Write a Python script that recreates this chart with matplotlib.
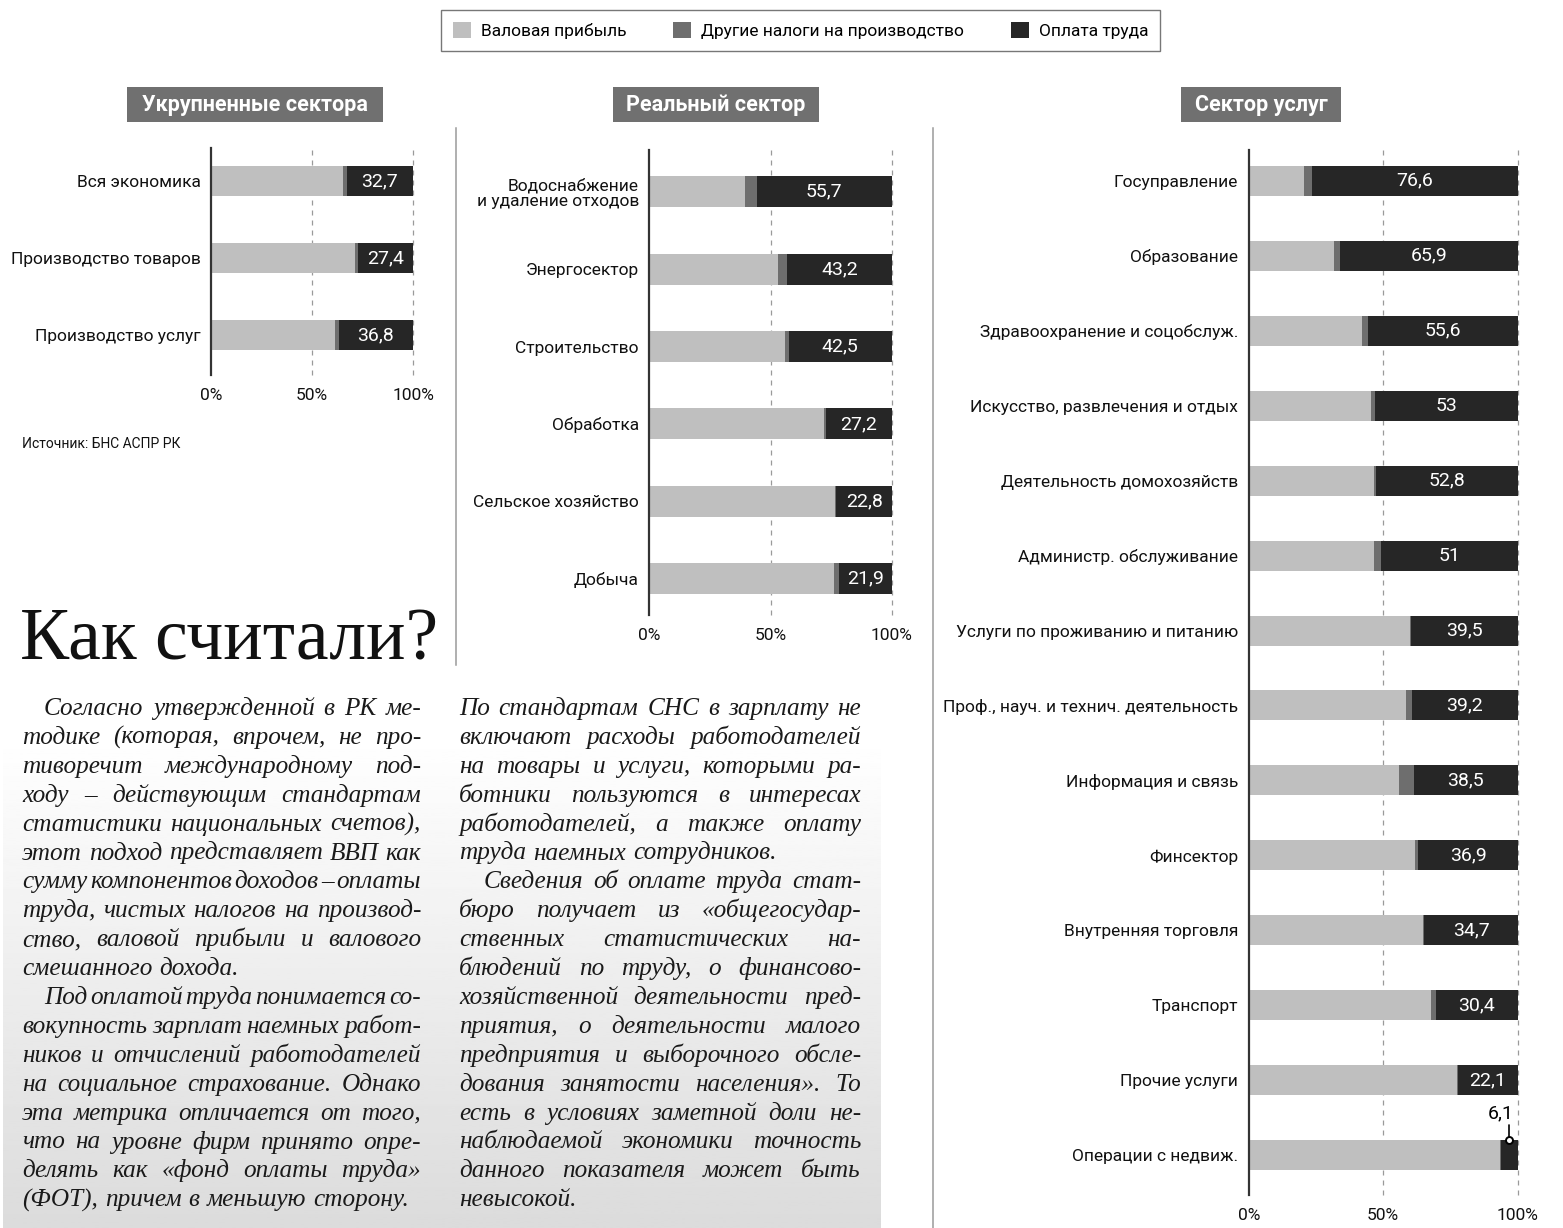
import matplotlib
matplotlib.use("Agg")
import matplotlib.pyplot as plt
import numpy as np
from matplotlib.lines import Line2D
from matplotlib.patches import Patch, Rectangle

W, H = 1563, 1228
LIGHT = "#bfbfbf"
MID = "#6e6e6e"
DARK = "#262626"
BOXGRAY = "#707070"

plt.rcParams["font.family"] = ["Roboto", "DejaVu Sans"]

# --- data -----------------------------------------------------------------
big_labels = ["Вся экономика", "Производство товаров", "Производство услуг"]
big_profit = [65.3, 71.3, 61.4]
big_taxes = [2.0, 1.3, 1.8]
big_labor = [32.7, 27.4, 36.8]

real_labels = ["Водоснабжение\nи удаление отходов", "Энергосектор", "Строительство",
               "Обработка", "Сельское хозяйство", "Добыча"]
real_profit = [39.5, 53.0, 56.1, 72.0, 76.8, 76.3]
real_taxes = [4.8, 3.8, 1.4, 0.8, 0.4, 1.8]
real_labor = [55.7, 43.2, 42.5, 27.2, 22.8, 21.9]

serv_labels = ["Госуправление", "Образование", "Здравоохранение и соцобслуж.",
               "Искусство, развлечения и отдых", "Деятельность домохозяйств",
               "Администр. обслуживание", "Услуги по проживанию и питанию",
               "Проф., науч. и технич. деятельность", "Информация и связь",
               "Финсектор", "Внутренняя торговля", "Транспорт", "Прочие услуги",
               "Операции с недвиж."]
serv_profit = [20.4, 31.8, 42.2, 45.3, 46.5, 46.7, 59.8, 58.6, 55.8, 61.7, 64.8, 67.8, 77.4, 93.3]
serv_taxes = [3.0, 2.3, 2.2, 1.7, 0.7, 2.3, 0.7, 2.2, 5.7, 1.4, 0.5, 1.8, 0.5, 0.6]
serv_labor = [76.6, 65.9, 55.6, 53, 52.8, 51, 39.5, 39.2, 38.5, 36.9, 34.7, 30.4, 22.1, 6.1]

series_names = ["Валовая прибыль", "Другие налоги на производство", "Оплата труда"]
panel_titles = ["Укрупненные сектора", "Реальный сектор", "Сектор услуг"]
x_ticks = [0, 50, 100]
x_ticklabels = ["0%", "50%", "100%"]

col1_paragraphs = [
    ["Согласно утвержденной в РК ме-",
     "тодике (которая, впрочем, не про-",
     "тиворечит международному под-",
     "ходу – действующим стандартам",
     "статистики национальных счетов),",
     "этот подход представляет ВВП как",
     "сумму компонентов доходов – оплаты",
     "труда, чистых налогов на производ-",
     "ство, валовой прибыли и валового",
     "смешанного дохода."],
    ["Под оплатой труда понимается со-",
     "вокупность зарплат наемных работ-",
     "ников и отчислений работодателей",
     "на социальное страхование. Однако",
     "эта метрика отличается от того,",
     "что на уровне фирм принято опре-",
     "делять как «фонд оплаты труда»",
     "(ФОТ), причем в меньшую сторону."],
]
col2_paragraphs = [
    ["По стандартам СНС в зарплату не",
     "включают расходы работодателей",
     "на товары и услуги, которыми ра-",
     "ботники пользуются в интересах",
     "работодателей, а также оплату",
     "труда наемных сотрудников."],
    ["Сведения об оплате труда стат-",
     "бюро получает из «общегосудар-",
     "ственных статистических на-",
     "блюдений по труду, о финансово-",
     "хозяйственной деятельности пред-",
     "приятия, о деятельности малого",
     "предприятия и выборочного обсле-",
     "дования занятости населения». То",
     "есть в условиях заметной доли не-",
     "наблюдаемой экономики точность",
     "данного показателя может быть",
     "невысокой."],
]


def fmt(v):
    return f"{v:g}".replace(".", ",")


def px_axes(fig, left, top, right, bottom):
    return fig.add_axes([left / W, 1 - bottom / H, (right - left) / W, (bottom - top) / H])


def draw_panel(ax, labels, profit, taxes, labor, bar_h, ylim):
    y = np.arange(len(labels))
    profit = np.asarray(profit, float)
    taxes = np.asarray(taxes, float)
    labor = np.asarray(labor, float)
    ax.barh(y, profit, height=bar_h, color=LIGHT, zorder=2)
    ax.barh(y, taxes, left=profit, height=bar_h, color=MID, zorder=2)
    ax.barh(y, labor, left=profit + taxes, height=bar_h, color=DARK, zorder=2)
    for yi, p, t, l in zip(y, profit, taxes, labor):
        if l > 10:
            ax.text(p + t + l / 2, yi, fmt(l), color="white", ha="center",
                    va="center", fontsize=14, zorder=3)
        else:
            ax.annotate(fmt(l), xy=(p + t + l / 2, yi - bar_h / 2),
                        xytext=(-6, 13), textcoords="offset points",
                        ha="center", va="bottom", fontsize=14, color="black",
                        arrowprops=dict(arrowstyle="-", color="black", lw=1.2,
                                        shrinkA=0, shrinkB=0,
                                        connectionstyle="angle,angleA=0,angleB=90,rad=0"),
                        zorder=4)
            ax.plot(p + t + l / 2, yi - bar_h / 2, "o", ms=5, mfc="white",
                    mec="black", mew=1.4, zorder=5, clip_on=False)
    for xv in (50, 100):
        ax.axvline(xv, color="#9a9a9a", lw=0.9, ls=(0, (4, 4)), zorder=1, clip_on=False)
    ax.set_xlim(0, 100)
    ax.set_ylim(*ylim)
    ax.set_xticks(x_ticks, x_ticklabels)
    ax.set_yticks(y, labels)
    for lab in ax.get_yticklabels():
        lab.set_linespacing(1.0)
    ax.tick_params(length=0, labelsize=12.5, pad=7.5, colors="#111111")
    ax.tick_params(axis="x", pad=9)
    for s in ("top", "right", "bottom"):
        ax.spines[s].set_visible(False)
    ax.spines["left"].set_color("#333333")
    ax.spines["left"].set_linewidth(1.6)
    ax.spines["left"].set_zorder(4)


fig = plt.figure(figsize=(W / 100, H / 100), dpi=100)

# gradient background behind the text block
bg = fig.add_axes([3 / W, 0, (880 - 3) / W, (1228 - 735) / H], zorder=-5)
grad = np.linspace(1.0, 0.86, 200)[:, None]
bg.imshow(grad, cmap="gray", vmin=0, vmax=1, aspect="auto", extent=(0, 1, 0, 1))
bg.axis("off")

ax1 = px_axes(fig, 211, 148, 413, 375)
draw_panel(ax1, big_labels, big_profit, big_taxes, big_labor, 0.39, (2.52, -0.43))

ax2 = px_axes(fig, 649.3, 150, 891.7, 615)
draw_panel(ax2, real_labels, real_profit, real_taxes, real_labor, 0.40, (5.47, -0.54))

ax3 = px_axes(fig, 1248.7, 150, 1517.7, 1195)
draw_panel(ax3, serv_labels, serv_profit, serv_taxes, serv_labor, 0.40, (13.53, -0.41))

# panel title boxes
for (x0, x1), title in zip([(127, 383), (613, 819), (1181, 1341)], panel_titles):
    fig.patches.append(Rectangle((x0 / W, 1 - 122 / H), (x1 - x0) / W, 35 / H,
                                 transform=fig.transFigure, fc=BOXGRAY, ec="none"))
    fig.text((x0 + x1) / 2 / W, 1 - 105 / H, title, ha="center", va="center",
             color="white", fontsize=15.5, fontweight="bold")

# separators
for x, y1 in [(456, 665), (933, 1228)]:
    fig.add_artist(Line2D([x / W, x / W], [1 - 128 / H, 1 - y1 / H],
                          transform=fig.transFigure, color="#9a9a9a", lw=1.1))

# legend
handles = [Patch(fc=c, ec="none", label=n) for c, n in zip([LIGHT, MID, DARK], series_names)]
leg = fig.legend(handles=handles, ncol=3, loc="center", bbox_to_anchor=(800.5 / W, 1 - 30.5 / H),
                 frameon=True, fancybox=False, edgecolor="#555555", fontsize=12.5,
                 handlelength=1.05, handleheight=1.05, handletextpad=0.55,
                 columnspacing=2.7, borderpad=0.7)
leg.get_frame().set_linewidth(1.0)

fig.text(22 / W, 1 - 444 / H, "Источник: БНС АСПР РК", va="center", fontsize=10, color="#111111")

fig.text(20 / W, 1 - 660 / H, "Как считали?", va="baseline", ha="left",
         fontsize=53, family="Liberation Serif", color="#111111")

# justified italic text columns
renderer = fig.canvas.get_renderer()
BODY_FS = 19.0
body_kw = dict(fontsize=BODY_FS, family="Liberation Serif", style="italic", color="#1a1a1a",
               va="baseline", ha="left")
SPACE_EM = 0.1


def build_column(paragraphs, x0, x1, y0, step, indent, first_indent=True):
    rows = []
    row = 0
    for pi, para in enumerate(paragraphs):
        for li, line in enumerate(para):
            y = 1 - (y0 + row * step) / H
            left = x0 + (indent if li == 0 and (pi > 0 or first_indent) else 0)
            objs = [fig.text(0, y, w, **body_kw) for w in line.split(" ")]
            rows.append(dict(objs=objs, left=left, right=x1, last=li == len(para) - 1))
            row += 1
    return rows


rows = build_column(col1_paragraphs, 22, 421, 715, 28.9, 22)
rows += build_column(col2_paragraphs, 459, 861, 715, 28.9, 25, first_indent=False)

# shrink font so the tightest line still fits its column
em_px = BODY_FS * 100 / 72
ratios = []
for r in rows:
    ws = [o.get_window_extent(renderer).width for o in r["objs"]]
    natural = sum(ws) + (len(ws) - 1) * SPACE_EM * em_px
    ratios.append(natural / (r["right"] - r["left"]))
scale = min(1.0, 1.0 / max(ratios))
fs = BODY_FS * scale
for r in rows:
    for o in r["objs"]:
        o.set_fontsize(fs)

for r in rows:
    objs = r["objs"]
    ws = [o.get_window_extent(renderer).width for o in objs]
    if r["last"] or len(objs) == 1:
        gap = fs * 100 / 72 * 0.28
    else:
        gap = (r["right"] - r["left"] - sum(ws)) / (len(objs) - 1)
    xx = r["left"]
    for o, w in zip(objs, ws):
        o.set_x(xx / W)
        xx += w + gap

fig.savefig("out.png", dpi=100)
